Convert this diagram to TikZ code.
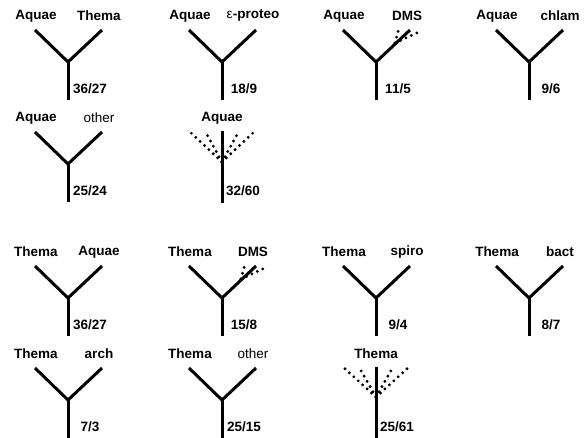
\documentclass[tikz,border=0pt]{standalone}
\usepackage{fontspec}
\setmainfont{Liberation Sans}
\usetikzlibrary{calc}
\tikzset{
  branch/.style={line width=3pt},
  guess/.style={line width=3.2pt, line cap=round, dash pattern=on 0pt off 6pt},
  taxon/.style={font=\fontsize{13.5}{16}\selectfont\bfseries, inner sep=0pt},
  ratio/.style={font=\fontsize{13.5}{16}\selectfont\bfseries, inner sep=0pt},
}
\begin{document}
\begin{tikzpicture}[x=1pt,y=-1pt]
    \useasboundingbox (0,0) rectangle (588,438);
    % two-branch trees: name/x/y/left/right/count
    \foreach \n/\x/\y/\l/\r/\c/\d in {
        t1/68/62/Aquae/Thema/36/27,
        t2/222/62/Aquae/{{\mdseries ε}-proteo}/18/9,
        t3/376/62/Aquae/DMS/11/5,
        t4/529/62/Aquae/chlam/9/6,
        t5/68/164/Aquae/{\mdseries other}/25/24,
        t7/68/298/Thema/Aquae/36/27,
        t8/222/298/Thema/DMS/15/8,
        t9/376/298/Thema/spiro/9/4,
        t10/529/298/Thema/bact/8/7,
        t11/68/400/Thema/arch/7/3,
        t12/222/400/Thema/{\mdseries other}/25/15} {
      \coordinate (j\n) at (\x,\y);
      \coordinate (a\n) at (\x-33,\y-32);
      \coordinate (b\n) at (\x+34,\y-32);
      \coordinate (s\n) at (\x,\y+38);
      \node[taxon] (l\n) at (\x-32,\y-46) {\l};
      \node[taxon] (r\n) at (\x+31,\y-46) {\r};
      \node[ratio] (f\n) at (\x+22,\y+27) {\c/\d};
      \draw[branch] (a\n) -- (j\n) -- (b\n);
      \draw[branch] (j\n) -- (s\n);
    }

    % DMS side branches
    \foreach \n in {t3,t8} {
      \coordinate (k\n) at ($(j\n)+(19,-19)$);
      \coordinate (p\n) at ($(j\n)+(23,-34)$);
      \coordinate (q\n) at ($(j\n)+(45,-31)$);
      \draw[guess] (k\n) -- (p\n);
      \draw[guess] (k\n) -- (q\n);
    }

    % unresolved fans
    \coordinate (jt6) at (222,162);
    \coordinate (ut6) at (222,131);
    \coordinate (st6) at (222,203);
    \node[taxon] (lt6) at (222,118) {Aquae};
    \node[ratio] (ft6) at (243,191) {32/60};
    \draw[branch] (ut6) -- (st6);
    \foreach \dx [count=\i] in {-33,-17,17,33}
      \draw[guess] (jt6) -- ++(\dx,-31) coordinate (et6\i);

    \coordinate (jt13) at (376,397);
    \coordinate (ut13) at (376,367);
    \coordinate (st13) at (376,438);
    \node[taxon] (lt13) at (376,354) {Thema};
    \node[ratio] (ft13) at (397,427) {25/61};
    \draw[branch] (ut13) -- (st13);
    \foreach \dx [count=\i] in {-33,-17,17,33}
      \draw[guess] (jt13) -- ++(\dx,-30) coordinate (et13\i);
\end{tikzpicture}
\end{document}
